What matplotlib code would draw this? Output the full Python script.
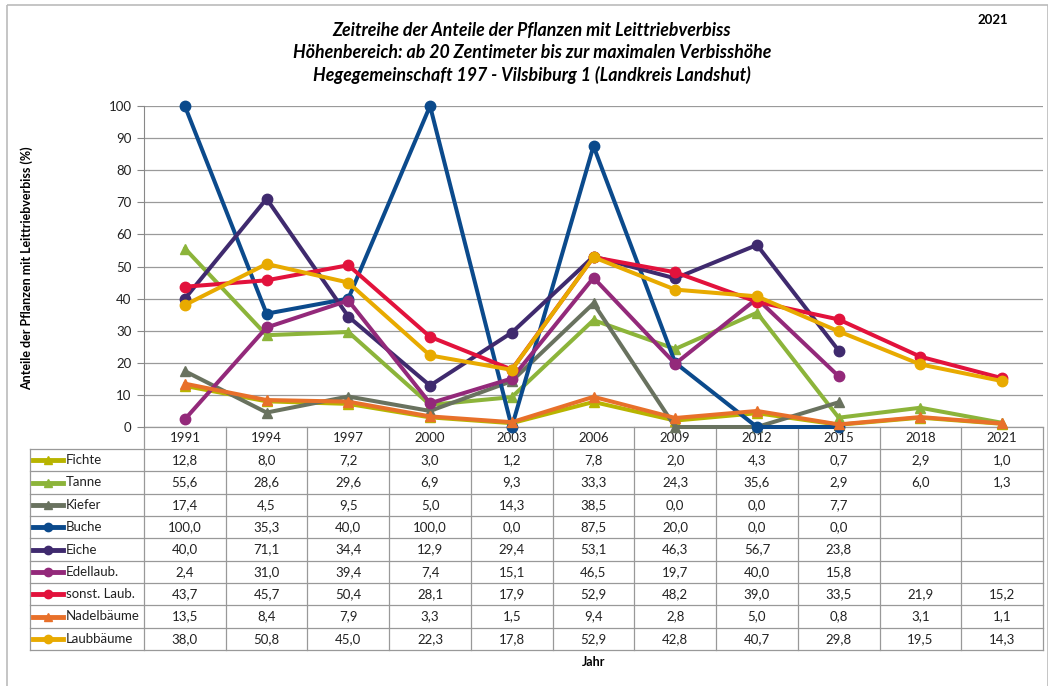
import matplotlib
matplotlib.use("Agg")
import matplotlib.pyplot as plt
import numpy as np

plt.rcParams['font.family'] = ['Lato', 'DejaVu Sans']

jahre = ['1991', '1994', '1997', '2000', '2003', '2006', '2009', '2012', '2015', '2018', '2021']
nan = np.nan

fichte = [12.8, 8.0, 7.2, 3.0, 1.2, 7.8, 2.0, 4.3, 0.7, 2.9, 1.0]
tanne = [55.6, 28.6, 29.6, 6.9, 9.3, 33.3, 24.3, 35.6, 2.9, 6.0, 1.3]
kiefer = [17.4, 4.5, 9.5, 5.0, 14.3, 38.5, 0.0, 0.0, 7.7, nan, nan]
buche = [100.0, 35.3, 40.0, 100.0, 0.0, 87.5, 20.0, 0.0, 0.0, nan, nan]
eiche = [40.0, 71.1, 34.4, 12.9, 29.4, 53.1, 46.3, 56.7, 23.8, nan, nan]
edellaub = [2.4, 31.0, 39.4, 7.4, 15.1, 46.5, 19.7, 40.0, 15.8, nan, nan]
sonst_laub = [43.7, 45.7, 50.4, 28.1, 17.9, 52.9, 48.2, 39.0, 33.5, 21.9, 15.2]
nadelbaeume = [13.5, 8.4, 7.9, 3.3, 1.5, 9.4, 2.8, 5.0, 0.8, 3.1, 1.1]
laubbaeume = [38.0, 50.8, 45.0, 22.3, 17.8, 52.9, 42.8, 40.7, 29.8, 19.5, 14.3]

namen = ['Fichte', 'Tanne', 'Kiefer', 'Buche', 'Eiche', 'Edellaub.',
         'sonst. Laub.', 'Nadelbäume', 'Laubbäume']
werte = [fichte, tanne, kiefer, buche, eiche, edellaub, sonst_laub, nadelbaeume, laubbaeume]
farben = ['#b8b400', '#8cb43a', '#69725f', '#0b4a8c', '#3f2a6e', '#93297a',
          '#e2123c', '#e8702a', '#e8aa00']
marker = ['^', '^', '^', 'o', 'o', 'o', 'o', '^', 'o']

W, H = 1048, 686
fig = plt.figure(figsize=(W / 100, H / 100), dpi=100)

# pixel overlay for frame, table, labels
bg = fig.add_axes([0, 0, 1, 1])
bg.set_xlim(0, W)
bg.set_ylim(H, 0)
bg.axis('off')

x0, x1 = 144, 1043
y100, y0 = 106, 427
ax = fig.add_axes([x0 / W, 1 - y0 / H, (x1 - x0) / W, (y0 - y100) / H])
ax.patch.set_alpha(0)

x = np.arange(len(jahre))
for n, v, c, m in zip(namen, werte, farben, marker):
    ax.plot(x, v, color=c, lw=2.9, marker=m, ms=7.5, label=n, solid_capstyle='round', clip_on=False)

ax.set_xlim(-0.5, len(jahre) - 0.5)
ax.set_ylim(0, 100)
ax.set_yticks(np.arange(0, 101, 10))
ax.tick_params(axis='y', labelsize=9.5, length=5, color='#888888', pad=4, labelcolor='#222222')
ax.set_xticks([])
ax.yaxis.grid(True, color='#9a9a9a', lw=0.9)
ax.set_axisbelow(True)
for s in ['top', 'right', 'bottom']:
    ax.spines[s].set_visible(False)
ax.spines['left'].set_color('#888888')
ax.set_ylabel('Anteile der Pflanzen mit Leittriebverbiss (%)', fontsize=9, fontweight='bold')
ax.yaxis.set_label_coords(-(x0 - 33) / (x1 - x0), (y0 - 268) / (y0 - y100))

# table
col_w = (x1 - x0) / len(jahre)
yh = 449
row_h = (650 - yh) / len(namen)
lc = '#999999'
bg.plot([x0, x0], [y0, 650], color=lc, lw=0.9)
for i in range(1, len(jahre) + 1):
    xx = x0 + i * col_w
    bg.plot([xx, xx], [y0, 650], color=lc, lw=0.9)
for j, jahr in enumerate(jahre):
    bg.text(x0 + (j + 0.5) * col_w, (y0 + yh) / 2, jahr, ha='center', va='center', fontsize=9.5, color='#222222')
bg.plot([x0, x1], [y0, y0], color=lc, lw=0.9)
for r in range(len(namen) + 1):
    yy = yh + r * row_h
    bg.plot([30, x1], [yy, yy], color=lc, lw=0.9)
bg.plot([30, 30], [yh, 650], color=lc, lw=0.9)
for r, (n, v, c, m) in enumerate(zip(namen, werte, farben, marker)):
    yc = yh + (r + 0.5) * row_h
    bg.plot([33, 63], [yc, yc], color=c, lw=3.5)
    bg.plot([48], [yc], color=c, marker=m, ms=6)
    bg.text(66, yc, n, ha='left', va='center', fontsize=9.5, color='#222222')
    for j, val in enumerate(v):
        if not np.isnan(val):
            bg.text(x0 + (j + 0.5) * col_w, yc, f'{val:.1f}'.replace('.', ','),
                    ha='center', va='center', fontsize=9.5, color='#222222')

bg.text((x0 + x1) / 2, 662, 'Jahr', ha='center', va='center', fontsize=9, fontweight='bold')

titel = ('Zeitreihe der Anteile der Pflanzen mit Leittriebverbiss\n'
         'Höhenbereich: ab 20 Zentimeter bis zur maximalen Verbisshöhe\n'
         'Hegegemeinschaft 197 - Vilsbiburg 1 (Landkreis Landshut)')
bg.text(532, 53, titel, ha='center', va='center', fontsize=12.8, fontweight='bold',
        fontstyle='italic', linespacing=1.35)
bg.text(993, 20, '2021', ha='center', va='center', fontsize=9.5, fontweight='bold')

bg.add_patch(plt.Rectangle((7, 5), W - 7, H, fill=False, edgecolor='#bbbbbb', lw=1.2))

fig.savefig('out.png', dpi=100)
